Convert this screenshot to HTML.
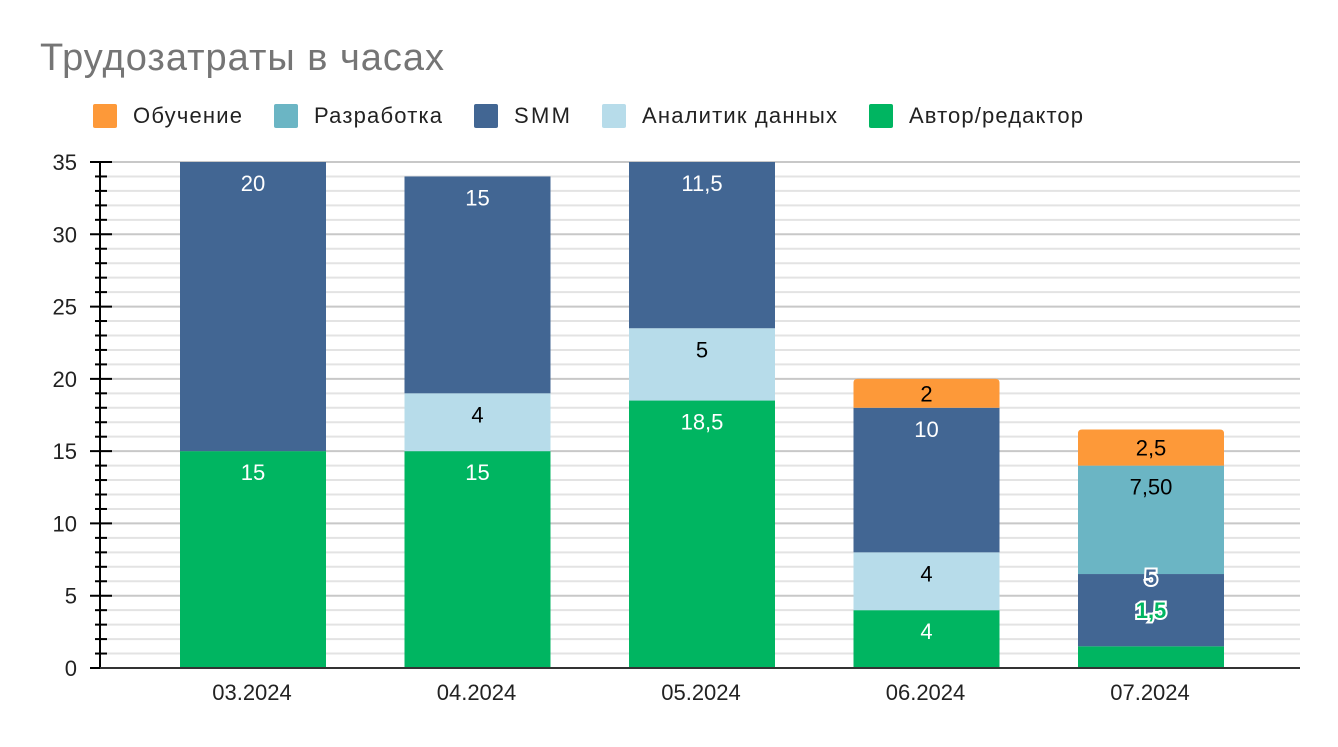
<!DOCTYPE html>
<html><head><meta charset="utf-8"><style>
body{margin:0;background:#fff;font-family:"Liberation Sans",sans-serif}
svg text{font-family:"Liberation Sans",sans-serif}
</style></head><body>
<svg id="c" width="1338" height="742">
<text x="40" y="70" font-size="38" fill="#757575" textLength="404">Трудозатраты в часах</text>
<g id="legend"></g>
<g id="grid"></g><g id="bars"></g><g id="axis"></g>
</svg>
<script>
const categories=["03.2024","04.2024","05.2024","06.2024","07.2024"];
const seriesNames=["Автор/редактор","Аналитик данных","SMM","Разработка","Обучение"];
const author=[15,15,18.5,4,1.5];
const analyst=[0,4,5,4,0];
const smm=[20,15,11.5,10,5];
const dev=[0,0,0,0,7.5];
const study=[0,0,0,2,2.5];
const valueLabels=[["15","","20","",""],["15","4","15","",""],["18,5","5","11,5","",""],["4","4","10","","2"],["1,5","","5","7,50","2,5"]];
const yTicks=[0,5,10,15,20,25,30,35];
const colors=["#00b561","#b7dcea","#426693","#6bb5c4","#fd9939"];
const textCol=["#fff","#000","#fff","#000","#000"];
const NS="http://www.w3.org/2000/svg";
function mk(t,a,p){const e=document.createElementNS(NS,t);for(const k in a)e.setAttribute(k,a[k]);p.appendChild(e);return e;}
const y0=668,y1=162,x0=100,x1=1300;
const y=v=>y0-(v/35)*(y0-y1);
const bw=146;
const xc=i=>253+i*224.5;
const grid=document.getElementById('grid'),axis=document.getElementById('axis'),bars=document.getElementById('bars'),leg=document.getElementById('legend');
for(let v=0;v<=35;v++){const l=mk('line',{x1:x0,x2:x1,y1:y(v),y2:y(v),stroke:v%5?'#e3e3e3':'#c8c8c8','stroke-width':2},grid);

mk('line',{x1:v%5?95:90,x2:v%5?107:112,y1:y(v),y2:y(v),stroke:'#000','stroke-width':2},axis);}
mk('line',{x1:x0,x2:x0,y1:y1,y2:y0,stroke:'#000','stroke-width':2},axis);
mk('line',{x1:x0,x2:x1,y1:y0,y2:y0,stroke:'#333','stroke-width':2},axis);
yTicks.forEach(v=>{const t=mk('text',{x:77,y:y(v)+8,'text-anchor':'end','font-size':22,fill:'#222'},axis);t.textContent=v;
});
const series=[author,analyst,smm,dev,study];
categories.forEach((c,i)=>{
 const t=mk('text',{x:xc(i)-1,y:700,'text-anchor':'middle','font-size':22,fill:'#222'},axis);t.textContent=c;
 
 let acc=0,top=-1;series.forEach((s,k)=>{if(s[i]>0)top=k;});
 const tops=[];
 series.forEach((s,k)=>{
  const v=s[i];if(!v){tops.push(null);return;}
  const yb=y(acc),yt=y(acc+v);acc+=v;tops.push(yt);
  let r;
  if(k===top&&i>=3){r=mk('path',{d:`M${xc(i)-bw/2},${yb}V${yt+4}q0,-4 4,-4H${xc(i)+bw/2-4}q4,0 4,4V${yb}Z`,fill:colors[k]},bars);}
  else r=mk('rect',{x:xc(i)-bw/2,y:yt,width:bw,height:yb-yt,fill:colors[k]},bars);
  
 });
 series.forEach((s,k)=>{
  const v=s[i];if(!v)return;const lab=valueLabels[i][k];if(!lab)return;
  const yt=tops[k];const h=(v/35)*(y0-y1);
  let ly=yt+29,outline=false;
  if(h<28){outline=true;let nk=k+1;while(nk<5&&!series[nk][i])nk++;ly=tops[nk]+44;}
  else{let pk=k-1;while(pk>=0&&!series[pk][i])pk--;if(pk>=0&&(series[pk][i]/35)*(y0-y1)<28){outline=true;ly=yt+11;}
   else if(h<40)ly=yt+h/2+8;}
  const t=mk('text',{x:xc(i),y:ly,'text-anchor':'middle','font-size':22,fill:outline?colors[k]:textCol[k]},bars);
  if(outline){t.setAttribute('stroke','#fff');t.setAttribute('stroke-width',4);t.setAttribute('paint-order','stroke');t.setAttribute('font-weight','bold');}
  t.textContent=lab;
 });
});
const legOrder=[4,3,2,1,0],legX=[93,274,474,602,869],legW=[109,128,56,195,174];
legOrder.forEach((k,j)=>{
 const g=mk('g',{},leg);
 mk('rect',{x:legX[j],y:104,width:24,height:24,rx:2,fill:colors[k]},g);
 const t=mk('text',{x:legX[j]+40,y:123,'font-size':22,fill:'#222',textLength:legW[j]},g);t.textContent=seriesNames[k];
});
</script>
</body></html>
